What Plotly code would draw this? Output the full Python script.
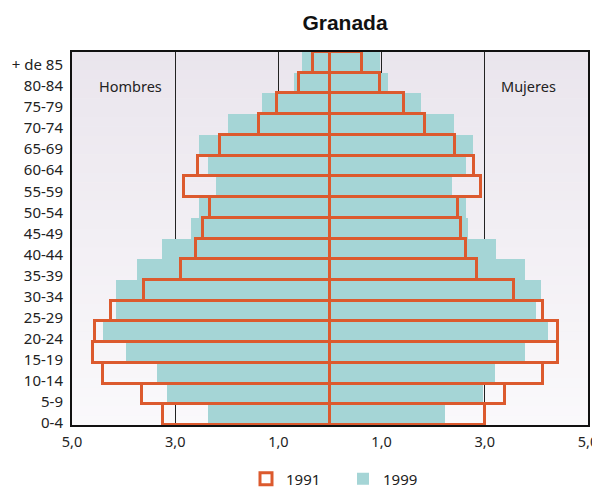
import plotly.graph_objects as go

ages = ["0-4", "5-9", "10-14", "15-19", "20-24", "25-29", "30-34", "35-39", "40-44",
        "45-49", "50-54", "55-59", "60-64", "65-69", "70-74", "75-79", "80-84", "+ de 85"]

men_1999 = [2.36, 3.15, 3.35, 3.95, 4.39, 4.14, 4.14, 3.75, 3.25, 2.69, 2.53, 2.21, 2.36, 2.53, 1.97, 1.32, 0.70, 0.55]
men_1991 = [3.24, 3.64, 4.40, 4.59, 4.56, 4.24, 3.61, 2.88, 2.59, 2.46, 2.33, 2.83, 2.56, 2.13, 1.38, 1.03, 0.60, 0.33]
women_1999 = [2.22, 2.97, 3.19, 3.77, 4.23, 4.00, 4.09, 3.77, 3.21, 2.68, 2.64, 2.36, 2.63, 2.78, 2.40, 1.77, 1.12, 0.97]
women_1991 = [3.00, 3.40, 4.13, 4.42, 4.42, 4.13, 3.57, 2.85, 2.64, 2.53, 2.49, 2.92, 2.79, 2.42, 1.84, 1.44, 0.97, 0.62]

tick_vals = [-5, -3, -1, 1, 3, 5]
tick_text = ["5,0", "3,0", "1,0", "1,0", "3,0", "5,0"]

TEAL = "#a5d5d6"
RED = "#dc5a2e"
FONT = "Noto Sans"

# the page adds an 8px body margin; the figure is sized to fill the rest of the window
OFF = 8
W, H = 600 - OFF, 488 - OFF
L, R, T, B = 72 - OFF, 12, 52 - OFF, H - (425 - OFF)
PW, PH = W - L - R, H - T - B

fig = go.Figure()

fig.add_trace(go.Bar(y=ages, x=[-v for v in men_1999], orientation="h",
                     marker=dict(color=TEAL, line=dict(width=0)),
                     name="1999", legendgroup="1999", showlegend=False, legendrank=2))
fig.add_trace(go.Bar(y=ages, x=women_1999, orientation="h",
                     marker=dict(color=TEAL, line=dict(width=0)),
                     name="1999", legendgroup="1999", showlegend=True, legendrank=2))
fig.add_trace(go.Bar(y=ages, x=[-v for v in men_1991], orientation="h",
                     marker=dict(color="rgba(0,0,0,0)", line=dict(color=RED, width=3)),
                     name="1991", legendgroup="1991", showlegend=False, legendrank=1))
fig.add_trace(go.Bar(y=ages, x=women_1991, orientation="h",
                     marker=dict(color="rgba(0,0,0,0)", line=dict(color=RED, width=3)),
                     name="1991", legendgroup="1991", showlegend=True, legendrank=1))
# carrier for the category label axis (draws nothing)
fig.add_trace(go.Scatter(x=[None], y=[None], yaxis="y2", mode="markers",
                         showlegend=False, hoverinfo="skip"))

# gradient background bands
shapes = []
n = 40
top = (234, 229, 237)
bot = (250, 249, 251)
for i in range(n):
    t = i / (n - 1)
    c = tuple(round(top[k] + (bot[k] - top[k]) * t) for k in range(3))
    shapes.append(dict(type="rect", xref="paper", yref="paper",
                       x0=0, x1=1, y0=1 - (i + 1) / n, y1=1 - i / n + 0.001,
                       fillcolor="rgb(%d,%d,%d)" % c, line=dict(width=0), layer="below"))


def px_x(page_x):
    return (page_x - OFF - L) / PW


def px_y(page_y):
    return (T + PH - (page_y - OFF)) / PH


# category labels in the original are spaced slightly wider than the rows
LBL_BOTTOM, LBL_STEP = 422.7, 21.04
lbl_range = [(LBL_BOTTOM - 425) / LBL_STEP, (LBL_BOTTOM - 52) / LBL_STEP]

fig.update_layout(
    width=W, height=H,
    margin=dict(l=L, r=R, t=T, b=B, autoexpand=False),
    paper_bgcolor="white",
    plot_bgcolor="rgb(242,240,244)",
    barmode="overlay",
    bargap=0,
    shapes=shapes,
    title=dict(text="<b>Granada</b>", x=(345 - OFF) / W, xref="container", xanchor="center",
               y=(H - (23 - OFF)) / H, yref="container", yanchor="middle",
               font=dict(family="Liberation Sans, Arial", size=21, color="#111")),
    font=dict(family=FONT, size=14, color="#222"),
    legend=dict(orientation="h", x=px_x(246), xanchor="left",
                y=(H - (479 - OFF)) / H, yref="container", yanchor="middle",
                font=dict(family=FONT, size=15, color="#222"),
                traceorder="normal", entrywidth=52, entrywidthmode="pixels",
                bgcolor="rgba(0,0,0,0)"),
    annotations=[
        dict(text="Hombres", x=px_x(130), y=px_y(86), xref="paper", yref="paper",
             xanchor="center", yanchor="middle", showarrow=False,
             font=dict(family=FONT, size=14.5, color="#222")),
        dict(text="Mujeres", x=px_x(528), y=px_y(86), xref="paper", yref="paper",
             xanchor="center", yanchor="middle", showarrow=False,
             font=dict(family=FONT, size=14.5, color="#222")),
    ],
    yaxis2=dict(overlaying="y", side="left", type="linear", range=lbl_range,
                tickmode="array", tickvals=list(range(len(ages))), ticktext=ages,
                showgrid=False, zeroline=False, showline=False, ticks="",
                ticklabelstandoff=8, tickfont=dict(size=15), automargin=False,
                fixedrange=True),
)

fig.update_xaxes(range=[-5, 5], tickvals=tick_vals, ticktext=tick_text,
                 showgrid=True, gridcolor="#222", gridwidth=1.3,
                 zeroline=False, showline=True, linecolor="#111", linewidth=2,
                 mirror=True, ticks="", tickfont=dict(size=14.5), automargin=False,
                 ticklabelstandoff=3)
fig.update_layout(yaxis=dict(categoryorder="array", categoryarray=ages,
                             showgrid=False, zeroline=False, showline=True, linecolor="#111",
                             linewidth=2, mirror=True, ticks="", showticklabels=False,
                             automargin=False))

fig.write_html("out.html")
